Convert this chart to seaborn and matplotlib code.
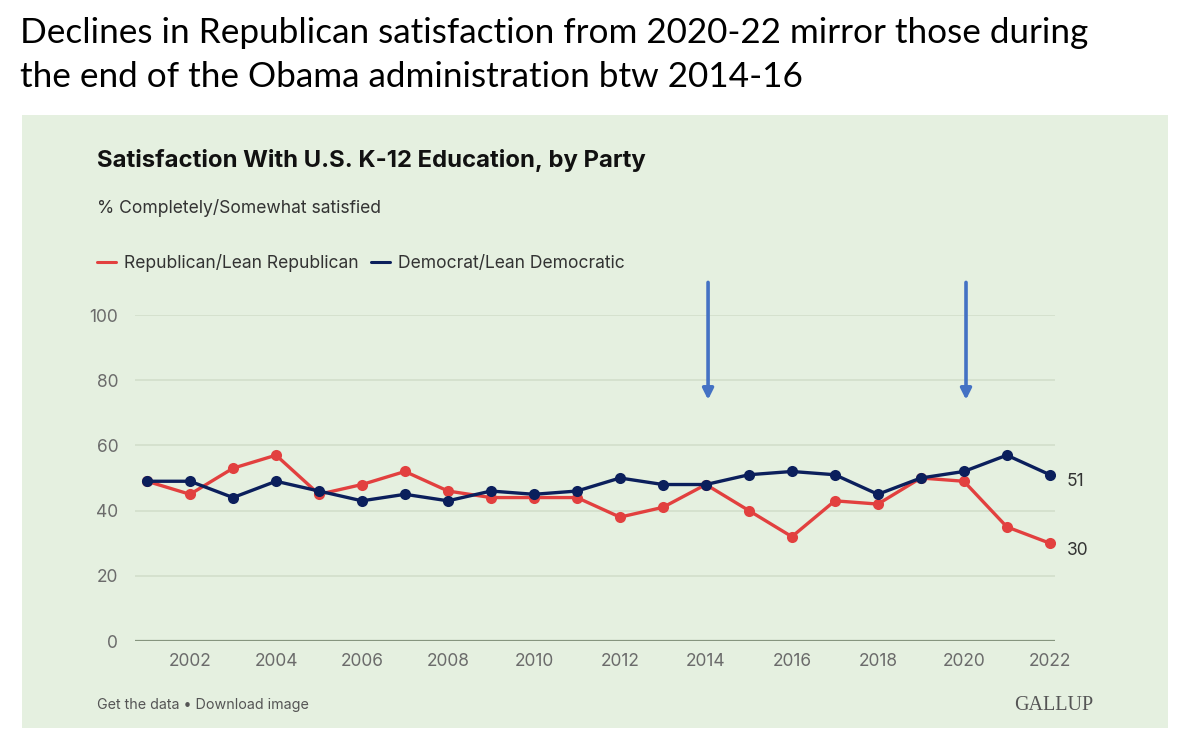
import matplotlib
matplotlib.use("Agg")
import matplotlib.pyplot as plt
from matplotlib.patches import Rectangle
import seaborn as sns
import pandas as pd

# data
years = list(range(2001, 2023))
republican = [49, 45, 53, 57, 45, 48, 52, 46, 44, 44, 44, 38, 41, 48, 40, 32, 43, 42, 50, 49, 35, 30]
democrat = [49, 49, 44, 49, 46, 43, 45, 43, 46, 45, 46, 50, 48, 48, 51, 52, 51, 45, 50, 52, 57, 51]
party_labels = ["Republican/Lean Republican", "Democrat/Lean Democratic"]
arrow_years = [2014, 2020]
y_ticks = [0, 20, 40, 60, 80, 100]
x_ticks = list(range(2002, 2023, 2))

RED = "#e2403f"
NAVY = "#0b1f5c"
PANEL = "#e5f0e0"

df = pd.concat([
    pd.DataFrame({"year": years, "value": republican, "party": party_labels[0]}),
    pd.DataFrame({"year": years, "value": democrat, "party": party_labels[1]}),
])

sns.set_theme(style="white")
plt.rcParams["font.family"] = ["Inter", "DejaVu Sans"]

fig = plt.figure(figsize=(12, 7.43), dpi=100)
fig.patch.set_facecolor("white")

# green backdrop behind the embedded chart
fig.patches.append(Rectangle((22 / 1200, 1 - 728 / 743), 1146 / 1200, 613 / 743,
                             transform=fig.transFigure, facecolor=PANEL,
                             edgecolor="none", zorder=-5))

ax = fig.add_axes([135 / 1200, 1 - 641 / 743, 920 / 1200, 326 / 743])
ax.set_facecolor("none")
ax.set_zorder(2)

sns.lineplot(data=df, x="year", y="value", hue="party", hue_order=party_labels,
             palette={party_labels[0]: RED, party_labels[1]: NAVY},
             marker="o", markersize=8, markeredgewidth=0, linewidth=2.4, ax=ax)

ax.set_xlim(2000.72, 2022.12)
ax.set_ylim(0, 100)
ax.set_yticks(y_ticks)
ax.set_xticks(x_ticks)
ax.set_xlabel("")
ax.set_ylabel("")
for s in ax.spines.values():
    s.set_visible(False)
ax.grid(axis="y", color="#d2decb", linewidth=1.2)
ax.axhline(0, color="#86957f", linewidth=1.6, zorder=1)
ax.tick_params(axis="both", length=0, labelsize=12.5, colors="#6b6b6b")
ax.tick_params(axis="y", pad=12)
ax.tick_params(axis="x", pad=9)

# end-of-line values, sitting a little below each last point
for last in (democrat[-1], republican[-1]):
    ax.annotate(str(last), xy=(years[-1], last), xytext=(12, -5),
                textcoords="offset points", va="center", ha="left",
                fontsize=12.5, color="#333333", annotation_clip=False)

# blue arrows marking the two periods
for yr in arrow_years:
    ax.annotate("", xy=(yr + 0.05, 74), xytext=(yr + 0.05, 110), annotation_clip=False,
                arrowprops=dict(arrowstyle="-|>", color="#4472c4", lw=2.6,
                                mutation_scale=16, shrinkA=0, shrinkB=0))

leg = ax.legend(loc="lower left", bbox_to_anchor=(97 / 1200, 1 - 272 / 743),
                bbox_transform=fig.transFigure, ncol=2, frameon=False,
                handlelength=1.1, handletextpad=0.45, columnspacing=0.7,
                fontsize=12.6, borderaxespad=0, borderpad=0)
for t in leg.get_texts():
    t.set_color("#333333")
for h in leg.get_lines():
    h.set_marker("")
    h.set_linewidth(2.2)

fig.text(20 / 1200, 1 - 33 / 743,
         "Declines in Republican satisfaction from 2020-22 mirror those during",
         fontsize=25.3, family=["Lato", "DejaVu Sans"], color="black", va="center")
fig.text(20 / 1200, 1 - 77 / 743,
         "the end of the Obama administration btw 2014-16",
         fontsize=25.3, family=["Lato", "DejaVu Sans"], color="black", va="center")

fig.text(97 / 1200, 1 - 160 / 743, "Satisfaction With U.S. K-12 Education, by Party",
         fontsize=17.2, fontweight="bold", color="#111111", va="center")
fig.text(97 / 1200, 1 - 208 / 743, "% Completely/Somewhat satisfied",
         fontsize=12.6, color="#333333", va="center")
fig.text(97 / 1200, 1 - 705 / 743, "Get the data \u2022 Download image",
         fontsize=10.3, color="#555555", va="center")
fig.text(1093 / 1200, 1 - 705 / 743, "GALLUP", fontsize=14.5, color="#555555",
         family=["Liberation Serif", "DejaVu Serif"], ha="right", va="center")

fig.savefig("out.png", dpi=100)
